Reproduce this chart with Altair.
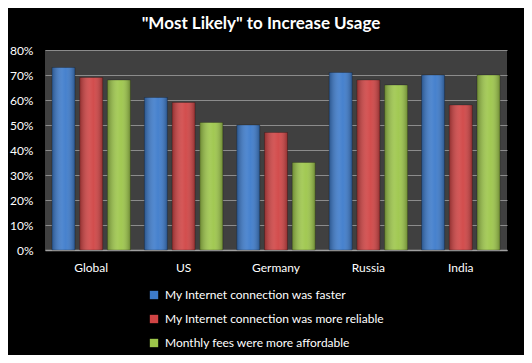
import altair as alt
import pandas as pd

countries = ["Global", "US", "Germany", "Russia", "India"]
series = [
    "My Internet connection was faster",
    "My Internet connection was more reliable",
    "Monthly fees were more affordable",
]
faster = [0.73, 0.61, 0.50, 0.71, 0.70]
reliable = [0.69, 0.59, 0.47, 0.68, 0.58]
affordable = [0.68, 0.51, 0.35, 0.66, 0.70]
colors = ["#3D7BCB", "#D04444", "#9DC64A"]

rows = []
for i, c in enumerate(countries):
    for s, vals in zip(series, [faster, reliable, affordable]):
        rows.append({"country": c, "series": s, "value": vals[i]})
df = pd.DataFrame(rows)

FONT = "Lato"

x = alt.X("country:N", sort=countries, title=None,
          scale=alt.Scale(paddingInner=0.1, paddingOuter=0.05),
          axis=alt.Axis(labelAngle=0, labelColor="white", labelFontSize=12,
                        labelFont=FONT, labelPadding=12, ticks=False,
                        domainColor="#A0A0A0", domainWidth=1.5, grid=False))
y = alt.Y("value:Q", title=None,
          scale=alt.Scale(domain=[0, 0.8]),
          axis=alt.Axis(format=".0%", values=[0, .1, .2, .3, .4, .5, .6, .7, .8],
                        labelColor="white", labelFontSize=12, labelFont=FONT,
                        labelPadding=12, ticks=False, domain=False,
                        gridColor="#8C8C8C", gridWidth=1))
xo = alt.XOffset("series:N", sort=series,
                 scale=alt.Scale(paddingInner=0.17, paddingOuter=0.085))

base = alt.Chart(df).encode(x=x, y=y, xOffset=xo)

bars = base.mark_bar(strokeWidth=0.8, stroke="#00000055").encode(
    color=alt.Color("series:N", sort=series,
                    scale=alt.Scale(domain=series, range=colors),
                    legend=alt.Legend(title=None, orient="none", legendX=103,
                                      legendY=239, direction="vertical",
                                      labelColor="white", labelFontSize=12,
                                      labelFont=FONT, symbolType="square",
                                      symbolSize=70, symbolStrokeWidth=0,
                                      rowPadding=12, labelOffset=5,
                                      labelLimit=400))
)

shade = base.mark_bar(
    color=alt.Gradient(
        gradient="linear", x1=0, x2=1, y1=0, y2=0,
        stops=[alt.GradientStop(color="rgba(0,0,0,0.30)", offset=0),
               alt.GradientStop(color="rgba(255,255,255,0.10)", offset=0.45),
               alt.GradientStop(color="rgba(255,255,255,0.05)", offset=0.6),
               alt.GradientStop(color="rgba(0,0,0,0.30)", offset=1)]
    )
)

chart = alt.layer(bars, shade).properties(
    width=462, height=200,
    background="black",
    padding={"left": 37, "top": 42, "right": 17, "bottom": 105},
    autosize=alt.AutoSizeParams(type="none"),
    title=alt.Title('"Most Likely" to Increase Usage', color="white",
                    fontSize=17, fontWeight="bold", font=FONT, offset=11,
                    dx=-15, anchor="middle"),
).configure_view(fill="#404040", stroke=None)

chart.save("out.html", embed_options={"renderer": "svg", "actions": False})
